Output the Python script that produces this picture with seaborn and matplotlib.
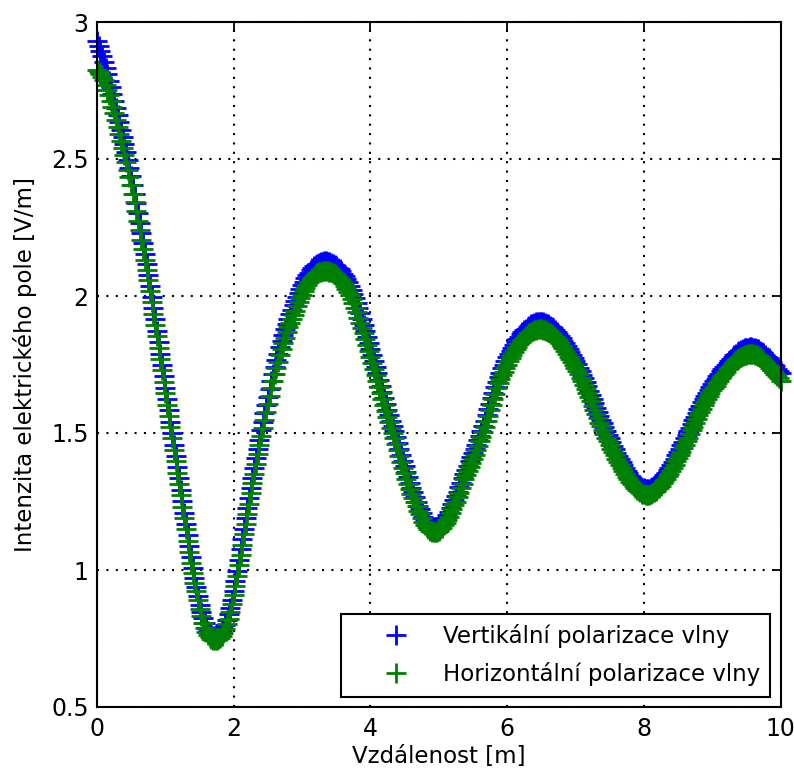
import numpy as np
import pandas as pd
import matplotlib
matplotlib.use("Agg")
import matplotlib.pyplot as plt
import seaborn as sns

# ---------------- data ----------------
# samples every 0.025 m from 0 m to 10 m
distance_start = 0.0
distance_stop = 10.0

vertikalni = [
    2.930, 2.913, 2.895, 2.876, 2.855, 2.833, 2.810, 2.786, 2.762, 2.737,
    2.712, 2.686, 2.660, 2.634, 2.607, 2.580, 2.553, 2.525, 2.497, 2.468,
    2.437, 2.405, 2.372, 2.338, 2.302, 2.266, 2.230, 2.193, 2.155, 2.116,
    2.077, 2.037, 1.997, 1.956, 1.915, 1.874, 1.832, 1.790, 1.749, 1.707,
    1.666, 1.624, 1.583, 1.541, 1.500, 1.458, 1.417, 1.375, 1.334, 1.292,
    1.251, 1.209, 1.168, 1.127, 1.086, 1.046, 1.008, 0.972, 0.938, 0.905,
    0.874, 0.847, 0.824, 0.805, 0.790, 0.779, 0.770, 0.764, 0.760, 0.759,
    0.760, 0.763, 0.768, 0.776, 0.787, 0.801, 0.818, 0.838, 0.862, 0.891,
    0.925, 0.961, 0.998, 1.036, 1.075, 1.112, 1.150, 1.188, 1.225, 1.262,
    1.300, 1.336, 1.372, 1.407, 1.442, 1.476, 1.510, 1.541, 1.572, 1.602,
    1.632, 1.660, 1.688, 1.714, 1.740, 1.765, 1.790, 1.813, 1.836, 1.857,
    1.878, 1.897, 1.916, 1.933, 1.950, 1.966, 1.982, 1.997, 2.012, 2.026,
    2.040, 2.052, 2.064, 2.075, 2.085, 2.094, 2.102, 2.108, 2.114, 2.118,
    2.121, 2.123, 2.125, 2.126, 2.126, 2.125, 2.124, 2.121, 2.118, 2.114,
    2.110, 2.104, 2.098, 2.090, 2.082, 2.072, 2.062, 2.050, 2.037, 2.023,
    2.008, 1.992, 1.975, 1.956, 1.937, 1.916, 1.895, 1.874, 1.852, 1.830,
    1.808, 1.786, 1.763, 1.741, 1.718, 1.695, 1.672, 1.650, 1.628, 1.606,
    1.585, 1.565, 1.545, 1.526, 1.506, 1.485, 1.464, 1.442, 1.420, 1.399,
    1.378, 1.358, 1.338, 1.319, 1.301, 1.283, 1.266, 1.250, 1.235, 1.221,
    1.207, 1.195, 1.184, 1.175, 1.167, 1.162, 1.158, 1.156, 1.156, 1.158,
    1.161, 1.166, 1.173, 1.181, 1.190, 1.201, 1.213, 1.226, 1.240, 1.255,
    1.270, 1.286, 1.302, 1.319, 1.335, 1.351, 1.366, 1.381, 1.396, 1.411,
    1.426, 1.441, 1.457, 1.473, 1.490, 1.507, 1.525, 1.545, 1.566, 1.586,
    1.606, 1.627, 1.647, 1.667, 1.686, 1.704, 1.720, 1.736, 1.750, 1.764,
    1.777, 1.789, 1.800, 1.811, 1.822, 1.832, 1.842, 1.851, 1.860, 1.868,
    1.875, 1.881, 1.887, 1.892, 1.896, 1.899, 1.902, 1.904, 1.905, 1.906,
    1.905, 1.904, 1.902, 1.899, 1.896, 1.892, 1.887, 1.882, 1.876, 1.869,
    1.862, 1.854, 1.846, 1.837, 1.827, 1.817, 1.806, 1.796, 1.785, 1.774,
    1.763, 1.751, 1.739, 1.726, 1.713, 1.699, 1.685, 1.670, 1.655, 1.640,
    1.624, 1.608, 1.593, 1.578, 1.563, 1.549, 1.535, 1.521, 1.507, 1.494,
    1.480, 1.466, 1.453, 1.440, 1.427, 1.415, 1.404, 1.393, 1.382, 1.372,
    1.362, 1.353, 1.344, 1.336, 1.328, 1.321, 1.315, 1.310, 1.305, 1.301,
    1.298, 1.296, 1.296, 1.297, 1.299, 1.302, 1.306, 1.311, 1.316, 1.323,
    1.330, 1.338, 1.346, 1.355, 1.364, 1.374, 1.384, 1.395, 1.406, 1.418,
    1.430, 1.442, 1.455, 1.467, 1.480, 1.493, 1.506, 1.519, 1.533, 1.546,
    1.560, 1.573, 1.587, 1.600, 1.612, 1.624, 1.636, 1.647, 1.658, 1.669,
    1.679, 1.689, 1.698, 1.707, 1.716, 1.725, 1.733, 1.741, 1.749, 1.757,
    1.764, 1.771, 1.778, 1.784, 1.790, 1.795, 1.800, 1.804, 1.807, 1.809,
    1.811, 1.812, 1.813, 1.813, 1.812, 1.810, 1.808, 1.805, 1.801, 1.796,
    1.791, 1.785, 1.778, 1.772, 1.765, 1.758, 1.750, 1.743, 1.735, 1.727,
    1.718,
]

horizontalni = [
    2.825, 2.818, 2.810, 2.800, 2.787, 2.771, 2.753, 2.733, 2.712, 2.690,
    2.667, 2.643, 2.618, 2.593, 2.567, 2.541, 2.515, 2.488, 2.461, 2.433,
    2.404, 2.374, 2.342, 2.309, 2.275, 2.241, 2.206, 2.170, 2.133, 2.095,
    2.057, 2.017, 1.977, 1.936, 1.895, 1.854, 1.812, 1.770, 1.729, 1.687,
    1.646, 1.604, 1.563, 1.521, 1.480, 1.438, 1.397, 1.355, 1.314, 1.272,
    1.231, 1.189, 1.148, 1.107, 1.066, 1.027, 0.988, 0.954, 0.922, 0.889,
    0.858, 0.831, 0.808, 0.789, 0.774, 0.763, 0.754, 0.748, 0.744, 0.743,
    0.744, 0.747, 0.752, 0.760, 0.771, 0.785, 0.802, 0.822, 0.846, 0.875,
    0.909, 0.943, 0.978, 1.017, 1.055, 1.092, 1.130, 1.168, 1.205, 1.242,
    1.280, 1.316, 1.352, 1.387, 1.422, 1.456, 1.490, 1.518, 1.547, 1.577,
    1.607, 1.635, 1.663, 1.689, 1.715, 1.737, 1.760, 1.783, 1.806, 1.827,
    1.848, 1.867, 1.886, 1.900, 1.915, 1.931, 1.947, 1.962, 1.977, 1.991,
    2.005, 2.017, 2.029, 2.040, 2.050, 2.059, 2.067, 2.073, 2.079, 2.083,
    2.086, 2.088, 2.090, 2.091, 2.091, 2.090, 2.089, 2.086, 2.083, 2.079,
    2.075, 2.069, 2.063, 2.055, 2.047, 2.037, 2.027, 2.015, 2.002, 1.988,
    1.973, 1.957, 1.940, 1.921, 1.902, 1.883, 1.865, 1.844, 1.822, 1.800,
    1.778, 1.756, 1.733, 1.711, 1.688, 1.668, 1.647, 1.625, 1.603, 1.581,
    1.560, 1.540, 1.520, 1.501, 1.481, 1.460, 1.439, 1.417, 1.395, 1.374,
    1.353, 1.333, 1.313, 1.294, 1.276, 1.262, 1.248, 1.232, 1.217, 1.203,
    1.189, 1.177, 1.166, 1.157, 1.149, 1.144, 1.140, 1.138, 1.138, 1.140,
    1.143, 1.148, 1.155, 1.163, 1.172, 1.183, 1.195, 1.208, 1.222, 1.236,
    1.250, 1.266, 1.282, 1.299, 1.315, 1.331, 1.346, 1.361, 1.376, 1.391,
    1.406, 1.421, 1.437, 1.453, 1.470, 1.486, 1.502, 1.522, 1.543, 1.563,
    1.583, 1.604, 1.624, 1.644, 1.663, 1.681, 1.697, 1.710, 1.723, 1.737,
    1.750, 1.762, 1.773, 1.784, 1.795, 1.805, 1.815, 1.824, 1.833, 1.841,
    1.848, 1.854, 1.860, 1.865, 1.869, 1.872, 1.875, 1.877, 1.878, 1.879,
    1.878, 1.877, 1.875, 1.872, 1.869, 1.865, 1.860, 1.855, 1.849, 1.842,
    1.835, 1.827, 1.819, 1.810, 1.800, 1.790, 1.779, 1.770, 1.760, 1.749,
    1.738, 1.726, 1.714, 1.701, 1.688, 1.674, 1.660, 1.645, 1.630, 1.615,
    1.599, 1.583, 1.568, 1.553, 1.538, 1.524, 1.510, 1.496, 1.482, 1.469,
    1.455, 1.443, 1.431, 1.418, 1.405, 1.393, 1.382, 1.371, 1.360, 1.350,
    1.340, 1.331, 1.322, 1.314, 1.306, 1.299, 1.293, 1.288, 1.283, 1.279,
    1.276, 1.274, 1.274, 1.275, 1.277, 1.280, 1.284, 1.289, 1.294, 1.301,
    1.308, 1.316, 1.324, 1.333, 1.342, 1.352, 1.362, 1.373, 1.384, 1.396,
    1.408, 1.420, 1.432, 1.444, 1.457, 1.470, 1.483, 1.496, 1.510, 1.523,
    1.537, 1.550, 1.564, 1.577, 1.589, 1.601, 1.613, 1.624, 1.635, 1.646,
    1.656, 1.665, 1.673, 1.682, 1.691, 1.700, 1.708, 1.716, 1.724, 1.732,
    1.739, 1.746, 1.753, 1.759, 1.765, 1.770, 1.775, 1.779, 1.782, 1.784,
    1.786, 1.787, 1.788, 1.788, 1.787, 1.785, 1.783, 1.780, 1.776, 1.770,
    1.763, 1.757, 1.750, 1.744, 1.737, 1.730, 1.722, 1.715, 1.707, 1.699,
    1.690,
]

series_labels = ["Vertikální polarizace vlny", "Horizontální polarizace vlny"]
x_ticks = [0, 2, 4, 6, 8, 10]
x_tick_labels = ["0", "2", "4", "6", "8", "10"]
y_ticks = [0.5, 1.0, 1.5, 2.0, 2.5, 3.0]
y_tick_labels = ["0.5", "1", "1.5", "2", "2.5", "3"]
x_label = "Vzdálenost [m]"
y_label = "Intenzita elektrického pole [V/m]"

# ---------------- style ----------------
sns.set_style("white")
plt.rcParams["font.family"] = ["DejaVu Sans"]
plt.rcParams["text.color"] = "black"
plt.rcParams["axes.labelcolor"] = "black"
plt.rcParams["axes.edgecolor"] = "black"
plt.rcParams["axes.linewidth"] = 1.5

dist_v = np.linspace(distance_start, distance_stop, len(vertikalni))
dist_h = np.linspace(distance_start, distance_stop, len(horizontalni))
df = pd.DataFrame({
    "distance": np.concatenate([dist_v, dist_h]),
    "E": np.concatenate([vertikalni, horizontalni]),
    "pol": [series_labels[0]] * len(vertikalni) + [series_labels[1]] * len(horizontalni),
})

fig = plt.figure(figsize=(7.94, 7.80), dpi=100)
ax = fig.add_axes([97 / 794, 73 / 780, 683.5 / 794, 685 / 780])

colors = {series_labels[0]: (0, 0, 1), series_labels[1]: (0, 0.5, 0)}
for lab in series_labels:
    sns.lineplot(data=df[df["pol"] == lab], x="distance", y="E", ax=ax,
                 estimator=None, sort=False, color=colors[lab], label=lab,
                 linestyle="", marker="+", markersize=14, markeredgewidth=2.0,
                 markeredgecolor=colors[lab], markerfacecolor=colors[lab],
                 clip_on=False, zorder=2)

ax.set_xlim(0, 10)
ax.set_ylim(0.5, 3)
ax.set_xticks(x_ticks)
ax.set_xticklabels(x_tick_labels)
ax.set_yticks(y_ticks)
ax.set_yticklabels(y_tick_labels)
ax.set_xlabel(x_label, fontsize=16.5, labelpad=3, color="black")
ax.set_ylabel(y_label, fontsize=16.5, labelpad=10, color="black")
ax.tick_params(axis="both", direction="in", length=6, width=1.3, colors="black",
               labelsize=17, top=True, right=True)
ax.tick_params(axis="x", pad=7)
ax.tick_params(axis="y", pad=6)
ax.set_axisbelow(True)
ax.grid(True, color="black", linestyle=(0, (1, 3.5)), linewidth=1.5)
for s in ax.spines.values():
    s.set_visible(True)
    s.set_color("black")
    s.set_linewidth(1.5)
    s.set_zorder(5)

leg = ax.legend(loc="lower right", fontsize=16.5, frameon=True, fancybox=False,
                edgecolor="black", framealpha=1, borderpad=0.45, labelspacing=0.62,
                handlelength=3.9, handletextpad=0.1, borderaxespad=0.45, numpoints=1)
leg.get_frame().set_linewidth(1.5)
for t in leg.get_texts():
    t.set_color("black")

fig.savefig("out.png", dpi=100)
